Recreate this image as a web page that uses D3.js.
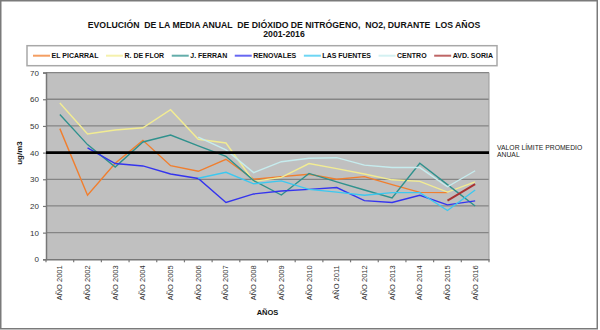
<!DOCTYPE html>
<html>
<head>
<meta charset="utf-8">
<script src="https://cdn.jsdelivr.net/npm/d3@7"></script>
<style>
  html, body { margin: 0; padding: 0; background: #fff; }
  svg { display: block; font-family: "Liberation Sans", Arial, sans-serif; }
</style>
</head>
<body>
<svg id="chart" width="600" height="330"></svg>
<script>
// ---- data ----
const years = ["AÑO 2001","AÑO 2002","AÑO 2003","AÑO 2004","AÑO 2005","AÑO 2006","AÑO 2007","AÑO 2008",
               "AÑO 2009","AÑO 2010","AÑO 2011","AÑO 2012","AÑO 2013","AÑO 2014","AÑO 2015","AÑO 2016"];
const seriesNames = ["EL PICARRAL","R. DE FLOR","J. FERRAN","RENOVALES","LAS FUENTES","CENTRO","AVD. SORIA"];
const elPicarral = [49, 24, 36, 44.6, 35.1, 33, 37.5, 30, 31, 31.9, 30, 31, 28, 25.1, 25, null];
const rDeFlor    = [58.6, 47, 48.5, 49.3, 56.1, 45, 43.6, 29.2, 30.7, 35.9, 34, 32, 29.8, 29.2, 25.2, 29];
const jFerran    = [54.3, 43, 34.6, 44, 46.6, 42.5, 38.6, 29.5, 24.1, 32.2, 29, 26, 23, 36, 28, 20];
const renovales  = [null, 41.8, 35.9, 35, 32, 30.3, 21.3, 24.5, 25.6, 26.2, 26.9, 22, 21.3, 24, 20.4, 21.9];
const lasFuentes = [null, null, null, null, null, 30.4, 32.6, 28.3, 29.4, 26.2, 25.2, 24, 25, 25, 18.3, 26];
const centro     = [null, null, null, null, null, 45.8, 41, 32.5, 36.6, 37.9, 38.1, 35.3, 34.4, 34.4, 27.2, 33.2];
const avdSoria   = [null, null, null, null, null, null, null, null, null, null, null, null, null, null, 22, 28.2];
const limitValue = 40;
const yTicks = [0, 10, 20, 30, 40, 50, 60, 70];
const titleLines = ["EVOLUCIÓN  DE LA MEDIA ANUAL  DE DIÓXIDO DE NITRÓGENO,  NO2, DURANTE  LOS AÑOS", "2001-2016"];
const yTitle = "ug/m3";
const xTitle = "AÑOS";
const limitLabel = ["VALOR LÍMITE PROMEDIO", "ANUAL"];

// ---- styles ----
const colors = ["#F07E2E", "#F2EC92", "#2F918D", "#3434EE", "#3CC8F0", "#C6ECEE", "#A83232"];
const seriesValues = [elPicarral, rDeFlor, jFerran, renovales, lasFuentes, centro, avdSoria];

const svg = d3.select("#chart");
const plot = { left: 46, right: 489, top: 72.6, bottom: 259.3 };

const x = d3.scaleBand().domain(years).range([plot.left, plot.right]).padding(0);
const y = d3.scaleLinear().domain([0, 70]).range([plot.bottom, plot.top]);

// outer border
svg.append("rect").attr("x", 0.75).attr("y", 0.75).attr("width", 596.5).attr("height", 328)
  .attr("fill", "#fff").attr("stroke", "#7a7a7a").attr("stroke-width", 1.5);

// title
svg.append("g").selectAll("text").data(titleLines).join("text")
  .attr("x", 284).attr("y", (d, i) => 27.6 + i * 9.8)
  .attr("text-anchor", "middle").attr("font-weight", "bold").attr("font-size", 8.7)
  .attr("fill", "#111").style("white-space", "pre").text(d => d);

// plot background
svg.append("rect").attr("x", plot.left).attr("y", plot.top)
  .attr("width", plot.right - plot.left).attr("height", plot.bottom - plot.top)
  .attr("fill", "#C0C0C0");

// gridlines
svg.append("g").selectAll("line").data(yTicks.filter(t => t > 0)).join("line")
  .attr("x1", plot.left).attr("x2", plot.right)
  .attr("y1", d => y(d)).attr("y2", d => y(d))
  .attr("stroke", "#858585").attr("stroke-width", 1.3);
// right border of plot
svg.append("line").attr("x1", plot.right).attr("x2", plot.right)
  .attr("y1", plot.top).attr("y2", plot.bottom).attr("stroke", "#9a9a9a").attr("stroke-width", 1);

// y axis
const yAxis = svg.append("g").attr("transform", `translate(${plot.left},0)`)
  .call(d3.axisLeft(y).tickValues(yTicks).tickSize(3).tickPadding(4).tickFormat(d3.format("d")));
yAxis.select(".domain").attr("stroke", "#777").attr("stroke-width", 1.5);
yAxis.selectAll(".tick line").attr("stroke", "#777").attr("stroke-width", 1.2);
yAxis.selectAll("text").attr("font-size", 8).attr("fill", "#333").attr("font-family", "Liberation Sans, Arial, sans-serif");

// x axis (labels at centres, ticks at boundaries)
const xAxis = svg.append("g").attr("transform", `translate(0,${plot.bottom})`)
  .call(d3.axisBottom(x).tickSize(0).tickPadding(0));
xAxis.select(".domain").attr("stroke", "#777").attr("stroke-width", 1.5);
xAxis.selectAll(".tick text")
  .attr("font-size", 7.5).attr("fill", "#333").attr("font-family", "Liberation Sans, Arial, sans-serif")
  .attr("text-anchor", "end").attr("dy", null).attr("y", 0)
  .attr("transform", "translate(0,6) rotate(-90)")
  .attr("dominant-baseline", "central");
const bounds = years.map(d => x(d)).concat([x(years[years.length - 1]) + x.bandwidth()]);
svg.append("g").selectAll("line").data(bounds).join("line")
  .attr("x1", d => d).attr("x2", d => d)
  .attr("y1", plot.bottom).attr("y2", plot.bottom + 3)
  .attr("stroke", "#777").attr("stroke-width", 1.2);

// axis titles
svg.append("text").attr("transform", "translate(22,153) rotate(-90)")
  .attr("text-anchor", "middle").attr("font-weight", "bold").attr("font-size", 8)
  .attr("fill", "#111").text(yTitle);
svg.append("text").attr("x", (plot.left + plot.right) / 2).attr("y", 315)
  .attr("text-anchor", "middle").attr("font-weight", "bold").attr("font-size", 7.5)
  .attr("fill", "#111").text(xTitle);

// series lines
const line = d3.line()
  .defined(d => d.v != null)
  .x(d => x(d.c) + x.bandwidth() / 2)
  .y(d => y(d.v));
svg.append("g").selectAll("path").data(seriesValues).join("path")
  .attr("d", vals => line(vals.map((v, i) => ({ c: years[i], v }))))
  .attr("fill", "none")
  .attr("stroke", (d, i) => colors[i])
  .attr("stroke-width", (d, i) => i === 6 ? 2 : 1.4)
  .attr("stroke-linejoin", "miter");

// limit line
svg.append("line").attr("x1", plot.left).attr("x2", plot.right)
  .attr("y1", y(limitValue)).attr("y2", y(limitValue))
  .attr("stroke", "#000").attr("stroke-width", 2.6);
svg.append("g").selectAll("text").data(limitLabel).join("text")
  .attr("x", 497).attr("y", (d, i) => 150 + i * 7.4)
  .attr("font-size", 6.8).attr("fill", "#222").text(d => d);

// legend
const lg = svg.append("g");
lg.append("rect").attr("x", 27).attr("y", 45.7).attr("width", 470).attr("height", 20)
  .attr("fill", "#fff").attr("stroke", "#a8a8a8").attr("stroke-width", 1.5);
const items = lg.selectAll("g.item").data(seriesNames).join("g").attr("class", "item");
items.append("line").attr("x1", 0).attr("x2", 17).attr("y1", 0).attr("y2", 0)
  .attr("stroke", (d, i) => colors[i]).attr("stroke-width", 2).attr("stroke-opacity", 0.75);
items.append("text").attr("x", 18.5).attr("y", 2.5)
  .attr("font-size", 7).attr("font-weight", "bold").attr("fill", "#111").text(d => d);
const widths = [];
items.each(function () { widths.push(17 + 1.5 + this.querySelector("text").getComputedTextLength()); });
const startX = 33, endX = 493;
const gap = (endX - startX - d3.sum(widths)) / (widths.length - 1);
let cx = startX;
items.each(function (d, i) {
  d3.select(this).attr("transform", `translate(${cx},55.7)`);
  cx += widths[i] + gap;
});
</script>
</body>
</html>
